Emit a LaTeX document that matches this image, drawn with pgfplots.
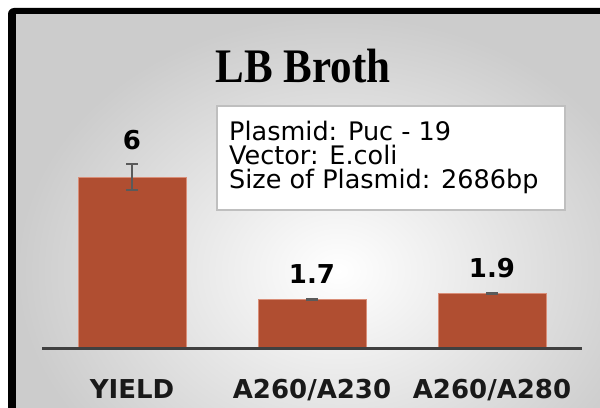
\documentclass[border=0pt]{standalone}
\usepackage{pgfplots}
\pgfplotsset{compat=1.18}
\usepackage{fontspec}
\setmainfont{DejaVu Sans}
\newfontfamily\titlefont{Liberation Serif}
\definecolor{barfill}{HTML}{B04E31}
\definecolor{baredge}{HTML}{D98E78}
\definecolor{axisgray}{HTML}{404040}
\definecolor{errgray}{HTML}{5A5A5A}
\begin{document}
\begin{tikzpicture}
\begin{scope}[x=1bp,y=1bp]
\useasboundingbox (0,0) rectangle (600,407);
\clip (0,0) rectangle (600,407);
\fill[white] (0,0) rectangle (600,407);
\fill[black, rounded corners=6bp] (8,-30) rectangle (660,399);
\shade[inner color=white, outer color=black!20] (16,-120) rectangle (660,392);
\end{scope}
\begin{axis}[
  at={(42bp,59bp)}, anchor=south west,
  scale only axis, width=540bp, height=285bp,
  xmin=-0.5, xmax=2.5, ymin=0, ymax=10,
  hide y axis,
  axis x line*=bottom,
  x axis line style={draw=none},
  xtick={0,1,2},
  xticklabels={YIELD, A260/A230, A260/A280},
  xtick style={draw=none},
  major tick length=0pt,
  xticklabel style={font=\fontsize{26bp}{28bp}\selectfont\bfseries, anchor=base, yshift=-50bp, text=black!90},
  ybar, bar width=108bp,
  clip=false,
]
\addplot[fill=barfill, draw=baredge, line width=1bp,
  error bars/.cd, y dir=both, y explicit,
  error bar style={line width=1.8bp, errgray},
  error mark options={rotate=90, mark size=6bp, line width=1.8bp, errgray}]
  coordinates {(0,6) +- (0,0.45) (1,1.7) +- (0,0.02) (2,1.9) +- (0,0.02)};
\draw[line width=3bp, axisgray] (axis cs:-0.5,0) -- (axis cs:2.5,0);
\node[anchor=base, font=\fontsize{26bp}{28bp}\selectfont\bfseries] at (axis cs:0,6.95) {6};
\node[anchor=base, font=\fontsize{26bp}{28bp}\selectfont\bfseries] at (axis cs:1,2.28) {1.7};
\node[anchor=base, font=\fontsize{26bp}{28bp}\selectfont\bfseries] at (axis cs:2,2.49) {1.9};
\end{axis}
\begin{scope}[x=1bp,y=1bp]
\draw[line width=1.5bp, draw=black!25, fill=white] (217,197) rectangle (565,301);
\begin{scope}[every node/.style={anchor=base west, inner sep=0pt, font=\fontsize{25.5bp}{28bp}\selectfont}]
\node at (229,267) {Plasmid: Puc - 19};
\node at (229,243) {Vector: E.coli};
\node at (229,219) {Size of Plasmid: 2686bp};
\end{scope}
\node[anchor=base, inner sep=0pt, font=\titlefont\bfseries\fontsize{43bp}{50bp}\selectfont] at (303,325) {\scalebox{1}[1.12]{LB Broth}};
\end{scope}
\end{tikzpicture}
\end{document}
